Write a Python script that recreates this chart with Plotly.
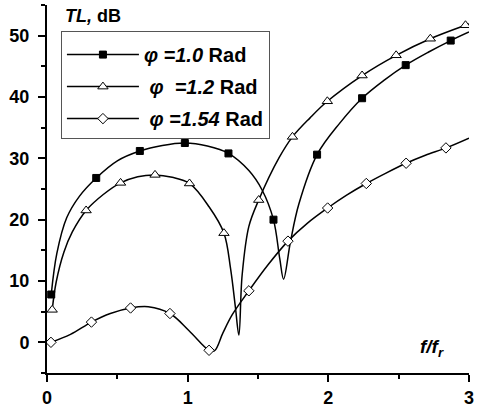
import plotly.graph_objects as go

# ---- data ----
# phi = 1.0 Rad (filled squares)
s1_mx = [0.03, 0.35, 0.66, 0.98, 1.29, 1.61, 1.92, 2.24, 2.55, 2.87]
s1_my = [7.8, 26.8, 31.2, 32.5, 30.8, 20.0, 30.6, 39.8, 45.2, 49.2]
s1_cx = [0.03, 0.07, 0.14, 0.23, 0.35, 0.50, 0.66, 0.82, 0.98, 1.14, 1.29,
         1.435, 1.53, 1.61, 1.655, 1.682, 1.73, 1.79, 1.92, 2.08, 2.24, 2.40, 2.55,
         2.71, 2.87, 3.00]
s1_cy = [7.8, 14.5, 20.3, 23.8, 26.8, 29.6, 31.2, 32.1, 32.5, 32.0, 30.8,
         28.0, 24.8, 20.0, 13.6, 10.3, 16.3, 22.5, 30.6, 35.7, 39.8, 42.8, 45.2,
         47.3, 49.2, 50.6]

# phi = 1.2 Rad (open triangles)
s2_mx = [0.037, 0.278, 0.523, 0.768, 1.013, 1.258, 1.505, 1.745, 1.993, 2.24,
         2.482, 2.725, 2.975]
s2_my = [5.3, 21.5, 26.0, 27.3, 25.9, 17.8, 23.2, 33.5, 39.3, 43.5, 46.8, 49.5, 51.7]
s2_cx = [0.037, 0.065, 0.12, 0.18, 0.278, 0.40, 0.523, 0.645, 0.768, 0.89, 1.013,
         1.152, 1.258, 1.305, 1.34, 1.364, 1.387, 1.435, 1.505, 1.65, 1.745, 1.87,
         1.993, 2.24, 2.482, 2.725, 2.975, 3.0]
s2_cy = [5.3, 9.8, 14.7, 18.0, 21.5, 24.1, 26.0, 27.0, 27.3, 26.9, 25.9,
         22.1, 17.8, 12.0, 5.6, 1.2, 10.9, 18.9, 23.2, 30.1, 33.5, 36.6,
         39.3, 43.5, 46.8, 49.5, 51.7, 51.9]

# phi = 1.54 Rad (open diamonds)
s3_mx = [0.028, 0.316, 0.594, 0.874, 1.152, 1.435, 1.713, 1.995, 2.27, 2.553, 2.836]
s3_my = [0.0, 3.3, 5.6, 4.7, -1.3, 8.4, 16.5, 21.9, 25.9, 29.2, 31.7]
s3_cx = [0.028, 0.167, 0.316, 0.45, 0.594, 0.72, 0.874, 1.01, 1.152, 1.19, 1.25,
         1.317, 1.435, 1.57, 1.713, 1.85, 1.995, 2.13, 2.27, 2.41, 2.553, 2.69,
         2.836, 3.0]
s3_cy = [0.0, 1.3, 3.3, 4.7, 5.6, 5.8, 4.7, 1.9, -1.3, -1.4, 1.5,
         4.5, 8.4, 12.6, 16.5, 19.4, 21.9, 24.0, 25.9, 27.6, 29.2, 30.5,
         31.7, 33.3]

names = ["<i>φ =1.0</i> Rad", " <i>φ  =1.2</i> Rad", " <i>φ =1.54</i> Rad"]

x_ticks = [0, 1, 2, 3]
y_ticks = [0, 10, 20, 30, 40, 50]

styles = [
    dict(symbol="square", size=7, color="black", line=dict(color="black", width=1)),
    dict(symbol="triangle-up", size=9, color="white", line=dict(color="black", width=1)),
    dict(symbol="diamond", size=8, color="white", line=dict(color="black", width=1)),
]

curves = [(s1_cx, s1_cy), (s2_cx, s2_cy), (s3_cx, s3_cy)]
marks = [(s1_mx, s1_my), (s2_mx, s2_my), (s3_mx, s3_my)]

fig = go.Figure()
for cx, cy in curves:
    fig.add_trace(go.Scatter(x=cx, y=cy, mode="lines",
                             line=dict(color="black", width=1.5, shape="spline", smoothing=1.0),
                             showlegend=False, hoverinfo="skip"))
for (mx, my), st in zip(marks, styles):
    fig.add_trace(go.Scatter(x=mx, y=my, mode="markers", marker=st,
                             showlegend=False, hoverinfo="skip"))
for i, (nm, st) in enumerate(zip(names, styles)):
    fig.add_trace(go.Scatter(x=[None], y=[None], mode="lines+markers", name=nm,
                             legendgroup=str(i),
                             line=dict(color="black", width=1.5), marker=st))

FONT = "Liberation Sans, Arial"
axis_common = dict(showline=True, linecolor="black", linewidth=2, ticks="outside",
                   tickcolor="black", tickwidth=1.5, ticklen=7, showgrid=False,
                   zeroline=False, mirror=False,
                   tickfont=dict(family=FONT, size=18, color="black", weight="bold"))

fig.update_layout(
    width=479, height=413,
    margin=dict(l=47, r=7, t=5, b=33),
    paper_bgcolor="white", plot_bgcolor="white",
    xaxis=dict(range=[0, 3], tickvals=x_ticks, ticktext=[str(v) for v in x_ticks],
               minor=dict(dtick=0.5, tick0=0, ticks="outside", ticklen=4,
                          tickcolor="black", tickwidth=1.5, showgrid=False),
               **axis_common),
    yaxis=dict(range=[-5, 55], tickvals=y_ticks, ticktext=[str(v) for v in y_ticks],
               ticklabelstandoff=5,
               minor=dict(dtick=5, tick0=0, ticks="outside", ticklen=4,
                          tickcolor="black", tickwidth=1.5, showgrid=False),
               **axis_common),
    legend=dict(x=0.033, y=0.928, xanchor="left", yanchor="top",
                bgcolor="white", bordercolor="#555", borderwidth=1,
                font=dict(family=FONT, size=20, color="black", weight="bold"),
                title=dict(text=" ", font=dict(size=2)),
                traceorder="grouped", tracegroupgap=3, itemwidth=72),
    annotations=[
        dict(text="<b><i>TL,</i> dB</b>", xref="paper", yref="paper",
             x=0.037, y=0.971, xanchor="left", yanchor="middle", showarrow=False,
             font=dict(family=FONT, size=18, color="black")),
        dict(text="<b><i>f/f<sub>r</sub></i></b>", xref="paper", yref="paper",
             x=0.88, y=0.069, xanchor="left", yanchor="middle", showarrow=False,
             font=dict(family=FONT, size=19, color="black")),
    ],
)

fig.write_html("out.html")
